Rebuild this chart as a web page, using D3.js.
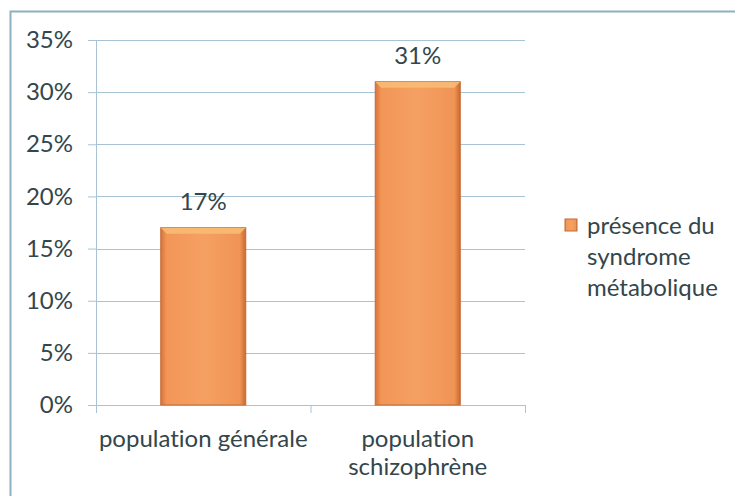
<!DOCTYPE html>
<html>
<head>
<meta charset="utf-8">
<script src="https://cdn.jsdelivr.net/npm/d3@7"></script>
<style>
  html, body { margin: 0; padding: 0; background: #fff; }
  svg { display: block; font-family: Lato, "Open Sans", sans-serif; font-variant-ligatures: none; font-feature-settings: "liga" 0, "dlig" 0; }
  svg text { font-variant-ligatures: none; }
</style>
</head>
<body>
<svg id="chart" width="735" height="496"></svg>
<script>
// Prevalence of metabolic syndrome by population
const categories = ["population générale", "population schizophrène"];
const categoryLines = [["population générale"], ["population", "schizophrène"]];
const values = [0.17, 0.31];
const yTicks = [0, 0.05, 0.10, 0.15, 0.20, 0.25, 0.30, 0.35];
const legendLines = ["présence du", "syndrome", "métabolique"];

const svg = d3.select("#chart");
const textColor = "#33464c";
const gridColor = "#a9c3d6";
const fontSize = "24px";

// outer chart frame
svg.append("rect")
  .attr("x", 10.5).attr("y", 11.5)
  .attr("width", 740).attr("height", 500)
  .attr("fill", "none").attr("stroke", "#8fb0c2").attr("stroke-width", 2);

const plot = { left: 96, right: 525, top: 40, bottom: 405 };

const x = d3.scaleBand().domain(categories)
  .range([plot.left, plot.right]).paddingInner(0).paddingOuter(0);
const y = d3.scaleLinear().domain([0, 0.35]).range([plot.bottom, plot.top]);

const defs = svg.append("defs");
const grad = defs.append("linearGradient").attr("id", "barGrad")
  .attr("x1", "0").attr("x2", "1").attr("y1", "0").attr("y2", "0");
grad.append("stop").attr("offset", "0%").attr("stop-color", "#d9743a");
grad.append("stop").attr("offset", "7%").attr("stop-color", "#f29658");
grad.append("stop").attr("offset", "50%").attr("stop-color", "#f5a063");
grad.append("stop").attr("offset", "93%").attr("stop-color", "#f09456");
grad.append("stop").attr("offset", "100%").attr("stop-color", "#c96a30");

// y axis with tick labels
const yAxis = d3.axisLeft(y).tickValues(yTicks)
  .tickFormat(d3.format(".0%"))
  .tickSize(8).tickPadding(15);
const yg = svg.append("g").attr("transform", `translate(${plot.left},0)`).call(yAxis);
yg.select(".domain").attr("stroke", gridColor).attr("stroke-width", 1);
yg.selectAll(".tick line").attr("stroke", gridColor);
yg.selectAll(".tick text").attr("fill", textColor)
  .style("font-size", fontSize).style("font-family", "Lato, 'Open Sans', sans-serif");

// horizontal gridlines
svg.append("g").selectAll("line").data(yTicks.filter(d => d > 0)).join("line")
  .attr("x1", plot.left).attr("x2", plot.right)
  .attr("y1", d => Math.round(y(d)) + 0.5).attr("y2", d => Math.round(y(d)) + 0.5)
  .attr("stroke", gridColor).attr("stroke-width", 1);

// x axis baseline with category separators
svg.append("line")
  .attr("x1", plot.left).attr("x2", plot.right)
  .attr("y1", plot.bottom + 0.5).attr("y2", plot.bottom + 0.5)
  .attr("stroke", gridColor);
const seps = [plot.left].concat(categories.map(c => x(c) + x.bandwidth()));
svg.append("g").selectAll("line").data(seps).join("line")
  .attr("x1", d => d + 0.5).attr("x2", d => d + 0.5)
  .attr("y1", plot.bottom).attr("y2", plot.bottom + 8)
  .attr("stroke", gridColor);

// bars
const barW = 85;
const bars = svg.append("g").selectAll("g").data(categories).join("g");
bars.append("rect")
  .attr("x", (d) => x(d) + (x.bandwidth() - barW) / 2)
  .attr("y", (d, i) => y(values[i]))
  .attr("width", barW)
  .attr("height", (d, i) => y(0) - y(values[i]))
  .attr("fill", "url(#barGrad)")
  .attr("stroke", "#c36a34").attr("stroke-width", 1);
// bevelled top edge
bars.append("path")
  .attr("d", (d, i) => {
    const x0 = x(d) + (x.bandwidth() - barW) / 2, y0 = y(values[i]);
    return `M${x0},${y0} L${x0 + barW},${y0} L${x0 + barW - 6},${y0 + 6} L${x0 + 6},${y0 + 6} Z`;
  })
  .attr("fill", "#f8bb74").attr("opacity", 0.9);

// value labels
svg.append("g").selectAll("text").data(categories).join("text")
  .attr("x", d => x(d) + x.bandwidth() / 2)
  .attr("y", (d, i) => y(values[i]) - 18)
  .attr("text-anchor", "middle")
  .attr("fill", textColor).style("font-size", fontSize)
  .text((d, i) => d3.format(".0%")(values[i]));

// category labels
const cat = svg.append("g").selectAll("text").data(categories).join("text")
  .attr("x", d => x(d) + x.bandwidth() / 2)
  .attr("y", plot.bottom + 42)
  .attr("text-anchor", "middle")
  .attr("fill", textColor).style("font-size", fontSize);
cat.selectAll("tspan").data((d, i) => categoryLines[i]).join("tspan")
  .attr("x", function () { return d3.select(this.parentNode).attr("x"); })
  .attr("dy", (d, j) => j === 0 ? 0 : 28)
  .text(d => d);

// legend
const lg = svg.append("g").attr("transform", "translate(565,219)");
lg.append("rect").attr("width", 12).attr("height", 12)
  .attr("fill", "url(#barGrad)").attr("stroke", "#c36a34");
lg.append("text").attr("x", 22).attr("y", 15)
  .attr("fill", textColor).style("font-size", fontSize)
  .selectAll("tspan").data(legendLines).join("tspan")
  .attr("x", 22).attr("dy", (d, j) => j === 0 ? 0 : 31)
  .text(d => d);
</script>
</body>
</html>
